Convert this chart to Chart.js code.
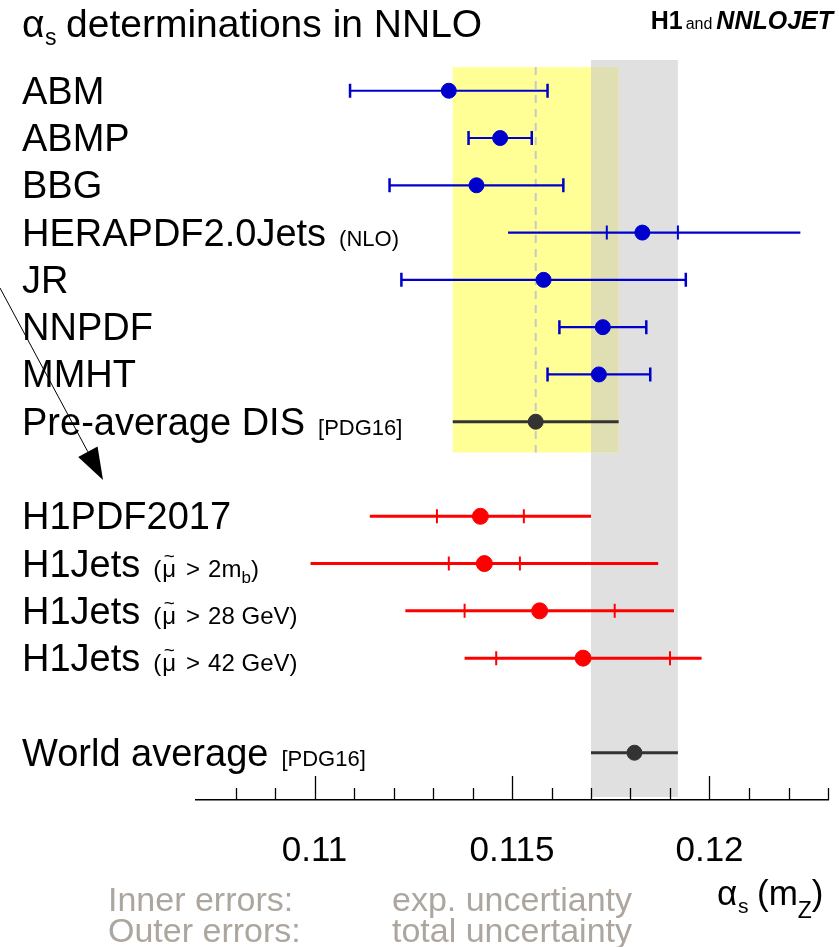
<!DOCTYPE html>
<html><head><meta charset="utf-8">
<script src="https://cdn.jsdelivr.net/npm/chart.js@4/dist/chart.umd.min.js"></script>
<style>html,body{margin:0;padding:0;background:#fff;overflow:hidden}#wrap{width:839px;height:947px;position:relative}</style>
</head><body><div id="wrap"><canvas id="c" width="839" height="947" style="width:839px;height:947px"></canvas></div>
<script>
// ---- data ----
const names    = ['ABM','ABMP','BBG','HERAPDF2.0Jets','JR','NNPDF','MMHT','Pre-average DIS','H1PDF2017','H1Jets','H1Jets','H1Jets','World average'];
const suffixes = ['','','','(NLO)','','','','[PDG16]','','mu2mb','mu28','mu42','[PDG16]'];
const rows     = [0,1,2,3,4,5,6,7,9,10,11,12,14];
const values   = [0.1134,0.1147,0.1141,0.1183,0.1158,0.1173,0.1172,0.1156,0.1142,0.1143,0.1157,0.1168,0.1181];
const innerErrLo = [null,null,null,0.0009,null,null,null,null,0.0011,0.0009,0.0019,0.0022,null];
const innerErrHi = [null,null,null,0.0009,null,null,null,null,0.0011,0.0009,0.0019,0.0022,null];
const outerErrLo = [0.0025,0.0008,0.0022,0.0034,0.0036,0.0011,0.0013,0.0021,0.0028,0.0044,0.0034,0.0030,0.0011];
const outerErrHi = [0.0025,0.0008,0.0022,0.0040,0.0036,0.0011,0.0013,0.0021,0.0028,0.0044,0.0034,0.0030,0.0011];
const groups     = ['pdf','pdf','pdf','pdfNLO','pdf','pdf','pdf','avg','h1','h1','h1','h1','avg'];
const majorTicks = [0.11,0.115,0.12];
const minorTicks = [0.108,0.109,0.11,0.111,0.112,0.113,0.114,0.115,0.116,0.117,0.118,0.119,0.12,0.121,0.122,0.123];
const preAvgIndex = 7;
const worldIndex = 12;

const colors = {pdf:'#0000cc', pdfNLO:'#0000cc', avg:'#333333', h1:'#ff0000'};
const FONT = '"Liberation Sans", Arial, Helvetica, sans-serif';

function pts(g){ const o=[]; values.forEach((v,i)=>{ if((groups[i]===g)||(g==='pdf'&&groups[i]==='pdfNLO')) o.push({x:v,y:rows[i]}); }); return o; }

function drawMuSuffix(ctx, kind, px, cy){
  const f='24px '+FONT;
  ctx.font=f;
  ctx.fillText('(',px,cy); px+=ctx.measureText('(').width+1;
  const muW=ctx.measureText('\u03bc').width;
  ctx.fillText('\u03bc',px,cy);
  ctx.font='19px '+FONT; const tw=ctx.measureText('~').width;
  ctx.fillText('~',px+(muW-tw)/2,cy-15);
  ctx.font=f; px+=muW+10;
  ctx.fillText('>',px,cy); px+=ctx.measureText('>').width+8;
  if(kind==='mu2mb'){
    ctx.fillText('2m',px,cy); px+=ctx.measureText('2m').width;
    ctx.font='17px '+FONT; ctx.fillText('b',px,cy+6); px+=ctx.measureText('b').width;
    ctx.font=f; ctx.fillText(')',px,cy);
  } else {
    ctx.fillText(kind==='mu28'?'28 GeV)':'42 GeV)',px,cy);
  }
}

const bandsPlugin = {
  id:'bands',
  beforeDatasetsDraw(chart){
    const {ctx, chartArea:a, scales:{x,y}} = chart;
    const wv = values[worldIndex], pv = values[preAvgIndex];
    const gx0 = x.getPixelForValue(wv-outerErrLo[worldIndex]), gx1 = x.getPixelForValue(wv+outerErrHi[worldIndex]);
    const yx0 = x.getPixelForValue(pv-outerErrLo[preAvgIndex]), yx1 = x.getPixelForValue(pv+outerErrHi[preAvgIndex]);
    const yy0 = y.getPixelForValue(-0.5), yy1 = y.getPixelForValue(7.65);
    ctx.save();
    ctx.fillStyle='#e0e0e0'; ctx.fillRect(gx0,a.top,gx1-gx0,a.bottom-a.top-3);
    ctx.fillStyle='#ffff96'; ctx.fillRect(yx0,yy0,yx1-yx0,yy1-yy0);
    const ox0=Math.max(gx0,yx0), ox1=Math.min(gx1,yx1);
    if(ox1>ox0){ ctx.fillStyle='#e0dfb4'; ctx.fillRect(ox0,yy0,ox1-ox0,yy1-yy0); }
    const px = x.getPixelForValue(pv);
    ctx.strokeStyle='#c8c8c8'; ctx.lineWidth=2; ctx.setLineDash([8,6]);
    ctx.beginPath(); ctx.moveTo(px,yy0); ctx.lineTo(px,yy1); ctx.stroke();
    ctx.setLineDash([]);
    values.forEach((v,i)=>{
      const g=groups[i], cy=y.getPixelForValue(rows[i]);
      ctx.strokeStyle=colors[g];
      ctx.lineWidth = (g==='h1')?3:(g==='avg'?3:2.2);
      const lo=x.getPixelForValue(v-outerErrLo[i]), hi=x.getPixelForValue(v+outerErrHi[i]);
      ctx.beginPath(); ctx.moveTo(lo,cy); ctx.lineTo(hi,cy); ctx.stroke();
      if(g==='pdf'){
        ctx.lineWidth=2.5;
        ctx.beginPath(); ctx.moveTo(lo,cy-7); ctx.lineTo(lo,cy+7); ctx.moveTo(hi,cy-7); ctx.lineTo(hi,cy+7); ctx.stroke();
      }
      if(innerErrLo[i]!=null){
        const il=x.getPixelForValue(v-innerErrLo[i]), ih=x.getPixelForValue(v+innerErrHi[i]);
        ctx.lineWidth=2;
        ctx.beginPath(); ctx.moveTo(il,cy-7); ctx.lineTo(il,cy+7); ctx.moveTo(ih,cy-7); ctx.lineTo(ih,cy+7); ctx.stroke();
      }
    });
    ctx.restore();
  },
  afterDraw(chart){
    const {ctx, chartArea:a, scales:{x,y}} = chart;
    ctx.save();
    ctx.strokeStyle='#000'; ctx.lineWidth=1.3;
    minorTicks.forEach(t=>{
      const px=Math.round(x.getPixelForValue(t))+0.5;
      const major = majorTicks.some(m=>Math.abs(m-t)<1e-9);
      ctx.beginPath(); ctx.moveTo(px,a.bottom); ctx.lineTo(px,a.bottom-(major?24:12)); ctx.stroke();
    });
    ctx.fillStyle='#000'; ctx.textBaseline='alphabetic'; ctx.textAlign='left';
    ctx.font='39px '+FONT; ctx.fillText('\u03b1',22,37);
    ctx.font='23px '+FONT; ctx.fillText('s',45,45);
    ctx.font='39px '+FONT; ctx.fillText('determinations in NNLO',66,37);
    const p1='bold 25px '+FONT, p2='16px '+FONT, p3='italic bold 25px '+FONT;
    ctx.font=p1; const w1=ctx.measureText('H1').width;
    ctx.font=p2; const w2=ctx.measureText('and').width;
    ctx.font=p3; const w3=ctx.measureText('NNLOJET').width;
    let sx = 833 - (w1+3+w2+4+w3);
    ctx.font=p1; ctx.fillText('H1',sx,29); sx+=w1+3;
    ctx.font=p2; ctx.fillText('and',sx,29); sx+=w2+4;
    ctx.font=p3; ctx.fillText('NNLOJET',sx,29);
    names.forEach((n,i)=>{
      const cy=y.getPixelForValue(rows[i])+13;
      ctx.font='38px '+FONT; ctx.fillStyle='#000';
      ctx.fillText(n,22,cy);
      let px=22+ctx.measureText(n).width+13;
      const s=suffixes[i];
      if(!s) return;
      if(s.startsWith('mu')){
        drawMuSuffix(ctx,s,px,cy);
      } else {
        ctx.font='22px '+FONT;
        ctx.fillText(s,px,cy);
      }
    });
    ctx.strokeStyle='#000'; ctx.lineWidth=1;
    const tip=[103,480], st=[0,288];
    const dx=tip[0]-st[0], dy=tip[1]-st[1], L=Math.hypot(dx,dy), ux=dx/L, uy=dy/L;
    const bx=tip[0]-32*ux, by=tip[1]-32*uy;
    ctx.beginPath(); ctx.moveTo(st[0],st[1]); ctx.lineTo(bx,by); ctx.stroke();
    ctx.beginPath(); ctx.moveTo(tip[0],tip[1]); ctx.lineTo(bx-11*uy,by+11*ux); ctx.lineTo(bx+11*uy,by-11*ux); ctx.closePath(); ctx.fill();
    ctx.font='35px '+FONT; ctx.fillText('\u03b1',717,905);
    ctx.font='21px '+FONT; ctx.fillText('s',738,913);
    ctx.font='35px '+FONT; ctx.fillText('(m',757,905);
    let zx=757+ctx.measureText('(m').width;
    ctx.font='23px '+FONT; ctx.fillText('Z',zx,918); zx+=ctx.measureText('Z').width;
    ctx.font='35px '+FONT; ctx.fillText(')',zx,905);
    ctx.fillStyle='#aca69f'; ctx.font='34px '+FONT;
    ctx.fillText('Inner errors:',108,911);
    ctx.fillText('Outer errors:',108,942);
    ctx.fillText('exp. uncertianty',392,911);
    ctx.fillText('total uncertainty',392,942);
    ctx.restore();
  }
};

new Chart(document.getElementById('c'), {
  type:'scatter',
  data:{datasets:[
    {data:pts('pdf'), backgroundColor:colors.pdf, borderColor:colors.pdf, pointRadius:7.5},
    {data:pts('h1'), backgroundColor:colors.h1, borderColor:colors.h1, pointRadius:8},
    {data:pts('avg'), backgroundColor:colors.avg, borderColor:colors.avg, pointRadius:7.5}
  ]},
  options:{
    responsive:false, animation:false, devicePixelRatio:1,
    layout:{padding:{left:196,right:11,top:60,bottom:0}},
    plugins:{legend:{display:false}, tooltip:{enabled:false}},
    scales:{
      x:{type:'linear', min:0.107, max:0.123,
         afterFit(s){ s.height=147; s.paddingLeft=0; s.paddingRight=0; },
         afterBuildTicks(s){ s.ticks = minorTicks.map(v=>({value:v})); },
         grid:{display:false, drawTicks:false},
         border:{display:true, color:'#000', width:1.5},
         ticks:{padding:30, color:'#000', font:{family:FONT,size:35}, maxRotation:0, autoSkip:false,
                callback:(v)=> majorTicks.some(m=>Math.abs(m-v)<1e-9) ? String(+v.toFixed(3)) : ''}},
      y:{type:'linear', min:-0.65, max:15, reverse:true, display:false}
    }
  },
  plugins:[bandsPlugin]
});
</script></body></html>
